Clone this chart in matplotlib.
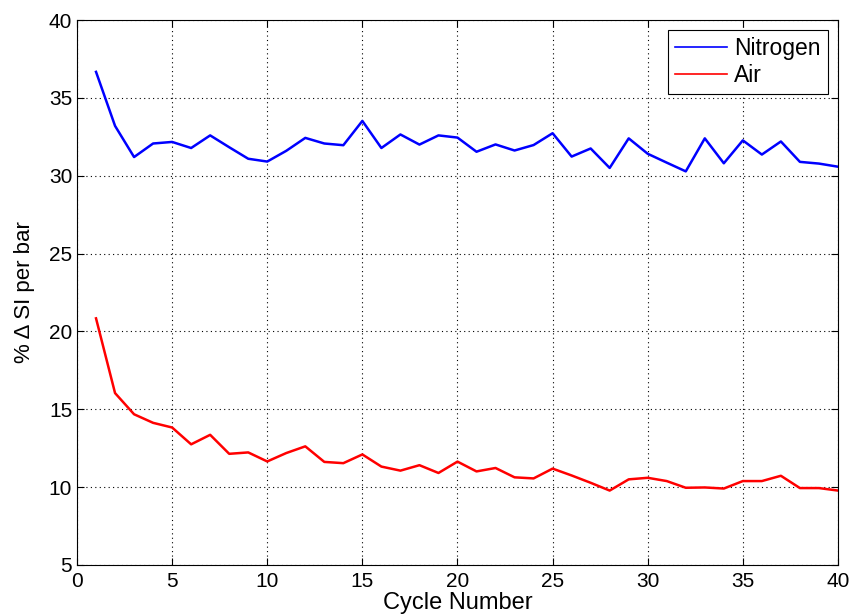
import numpy as np
import matplotlib
matplotlib.use("Agg")
import matplotlib.pyplot as plt

plt.rcParams["font.family"] = ["Liberation Sans", "DejaVu Sans"]

# % change in SI per bar for each cycle
cycles = list(range(1, 41))
nitrogen = [36.67, 33.2, 31.2, 32.07, 32.17, 31.78, 32.59, 31.83, 31.09, 30.91,
            31.6, 32.43, 32.07, 31.96, 33.52, 31.78, 32.65, 32.0, 32.59, 32.45,
            31.54, 32.01, 31.62, 31.97, 32.73, 31.23, 31.75, 30.5, 32.4, 31.41,
            30.84, 30.28, 32.4, 30.8, 32.27, 31.36, 32.2, 30.89, 30.78, 30.58]
air = [20.84, 16.04, 14.68, 14.13, 13.83, 12.75, 13.36, 12.14, 12.23, 11.65,
       12.19, 12.62, 11.62, 11.54, 12.1, 11.32, 11.06, 11.41, 10.91, 11.64,
       11.01, 11.23, 10.63, 10.56, 11.19, 10.75, 10.28, 9.78, 10.5, 10.6,
       10.39, 9.96, 9.98, 9.91, 10.39, 10.39, 10.73, 9.94, 9.94, 9.78]

fig = plt.figure(figsize=(8.49, 6.16), dpi=100)
ax = fig.add_axes([0.0907, 0.0828, 0.8963, 0.8847])

ax.plot(cycles, nitrogen, color="#0000ff", lw=1.8, label="Nitrogen")
ax.plot(cycles, air, color="#ff0000", lw=1.8, label="Air")

ax.set_xlim(0, 40)
ax.set_ylim(5, 40)
ax.set_xticks(np.arange(0, 41, 5))
ax.set_yticks(np.arange(5, 41, 5))
ax.grid(True, color="black", linestyle=(0, (1, 3)), linewidth=0.8)
ax.tick_params(direction="in", top=True, right=True, labelsize=15, length=5)
ax.tick_params(axis="x", pad=5)
for s in ax.spines.values():
    s.set_linewidth(0.8)

ax.set_xlabel("Cycle Number", fontsize=17, labelpad=1)
ax.set_ylabel("% \u0394 SI per bar", fontsize=16, labelpad=10)

leg = ax.legend(loc="upper right", fontsize=16.5, fancybox=False,
                framealpha=1, edgecolor="black", handlelength=2.3,
                handletextpad=0.3, borderaxespad=0.45, labelspacing=0.15,
                borderpad=0.3)
leg.get_frame().set_linewidth(0.8)
for h in leg.get_lines():
    h.set_linewidth(1.2)

fig.savefig("out.png", dpi=100)
